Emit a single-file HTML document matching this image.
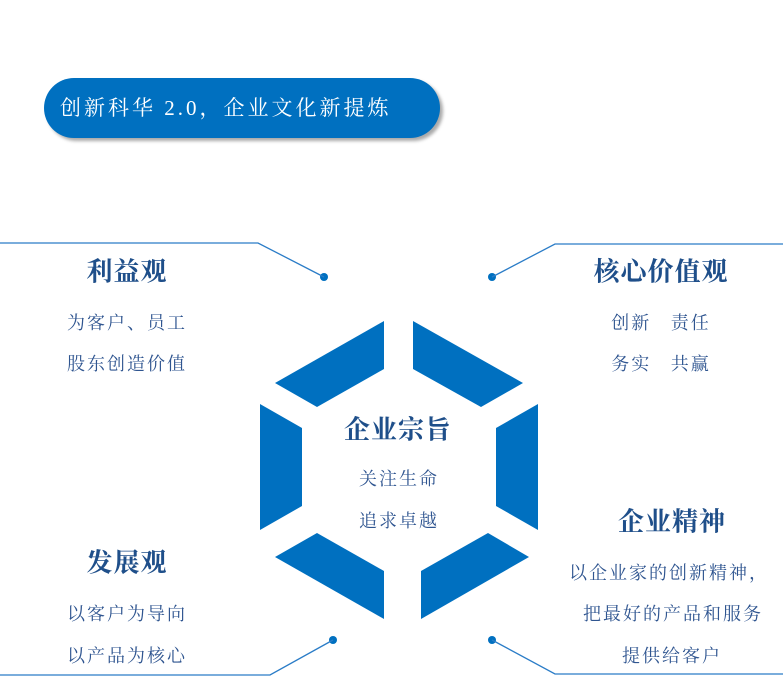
<!DOCTYPE html>
<html><head><meta charset="utf-8"><style>
body{margin:0;width:783px;height:700px;background:#fff;position:relative;overflow:hidden;font-family:"Liberation Serif","Noto Serif CJK SC",serif}
.t{position:absolute;white-space:nowrap;transform:translate(-50%,-50%);color:#2f5590;font-size:18px;letter-spacing:2px}
.h{font-size:26px;font-weight:bold;color:#1f4f8a;letter-spacing:1px}
.pill{position:absolute;left:44px;top:78px;width:396px;height:60px;border-radius:30px;background:#0070c0;box-shadow:3px 3px 3px #aaa;color:#fff;font-size:21px;line-height:60px;padding-left:16px;box-sizing:border-box;letter-spacing:3px}
</style></head><body>
<div class="pill">创新科华 2.0，企业文化新提炼</div>
<svg width="783" height="700" style="position:absolute;left:0;top:0">
<g fill="#0070c0">
<polygon points="275,383 384,321 384,369 317,407"/>
<polygon points="413,321 523,383 481,407 413,369"/>
<polygon points="260,404 302,428 302,506 260,530"/>
<polygon points="538,404 496,428 496,506 538,530"/>
<polygon points="317,533 275,557 384,619 384,571"/>
<polygon points="488,533 529,557 421,619 421,571"/>
<circle cx="324" cy="277" r="4"/><circle cx="492" cy="277" r="4"/>
<circle cx="333" cy="640" r="4"/><circle cx="492" cy="640" r="4"/>
</g>
<g stroke="#2a7cc7" stroke-width="1.3" fill="none">
<polyline points="0,243 258,243 324,277"/>
<polyline points="492,277 555,244 783,244"/>
<polyline points="333,640 270,675 0,675"/>
<polyline points="492,640 555,674 783,674"/>
</g>
</svg>
<div class="t h" style="left:127px;top:270px">利益观</div>
<div class="t" style="left:127px;top:322px">为客户、员工</div>
<div class="t" style="left:127px;top:363px">股东创造价值</div>
<div class="t h" style="left:661px;top:270px">核心价值观</div>
<div class="t" style="left:661px;top:322px">创新&nbsp;&nbsp;&nbsp;责任</div>
<div class="t" style="left:661px;top:363px">务实&nbsp;&nbsp;&nbsp;共赢</div>
<div class="t h" style="left:398px;top:428px">企业宗旨</div>
<div class="t" style="left:399px;top:478px">关注生命</div>
<div class="t" style="left:399px;top:520px">追求卓越</div>
<div class="t h" style="left:672px;top:520px">企业精神</div>
<div class="t" style="left:669px;top:572px">以企业家的创新精神，</div>
<div class="t" style="left:673px;top:613px">把最好的产品和服务</div>
<div class="t" style="left:672px;top:655px">提供给客户</div>
<div class="t h" style="left:127px;top:561px">发展观</div>
<div class="t" style="left:127px;top:613px">以客户为导向</div>
<div class="t" style="left:127px;top:655px">以产品为核心</div>
</body></html>
